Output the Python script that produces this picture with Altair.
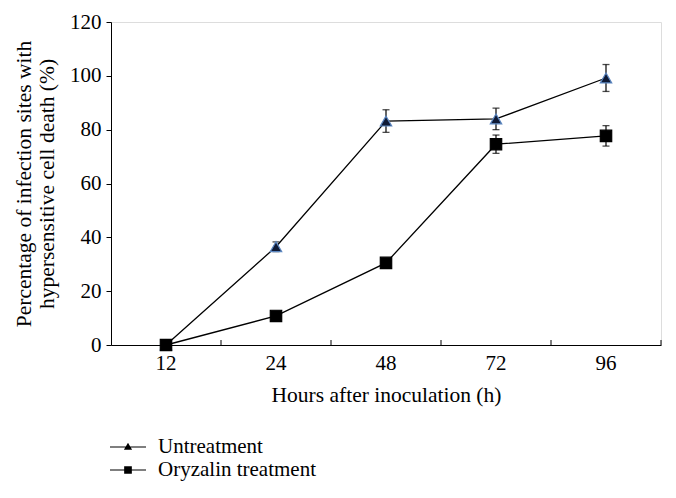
import altair as alt
import pandas as pd

hours = ["12", "24", "48", "72", "96"]
untreated = [0, 36.5, 83.2, 84.0, 99.2]
untreated_err = [0, 1.8, 4.2, 4.0, 5.0]
oryzalin = [0, 10.8, 30.5, 74.6, 77.7]
oryzalin_err = [0, 0, 0, 3.4, 3.8]
series_names = ["Untreatment", "Oryzalin treatment"]

rows = []
for h, v, e in zip(hours, untreated, untreated_err):
    rows.append({"hour": h, "value": v, "lo": v - e, "hi": v + e, "series": series_names[0]})
for h, v, e in zip(hours, oryzalin, oryzalin_err):
    rows.append({"hour": h, "value": v, "lo": v - e, "hi": v + e, "series": series_names[1]})
df = pd.DataFrame(rows)
err_df = df[df["hi"] > df["lo"]]
tick_df = pd.DataFrame({"hour": hours})

W, H = 550, 323
FONT = "Liberation Serif"
FS = 21

xenc = alt.X("hour:N", sort=hours,
             scale=alt.Scale(paddingInner=0, paddingOuter=0),
             axis=alt.Axis(title="Hours after inoculation (h)", labelAngle=0, ticks=False,
                           domainColor="black", labelColor="black", labelFont=FONT,
                           labelFontSize=FS, labelPadding=7, titleFont=FONT,
                           titleFontSize=FS + 0.5, titleFontWeight="normal", titleColor="black",
                           titlePadding=11))
yscale = alt.Scale(domain=[0, 120], nice=False)
yaxis = alt.Axis(title=["Percentage of infection sites with", "hypersensitive cell death (%)"],
                 values=[0, 20, 40, 60, 80, 100, 120], grid=False, tickSize=5,
                 tickColor="black", domainColor="black", labelColor="black",
                 labelFont=FONT, labelFontSize=FS, labelPadding=5, titleFont=FONT,
                 titleFontSize=FS + 0.5, titleFontWeight="normal", titleColor="black",
                 titlePadding=11, titleLineHeight=23)

base = alt.Chart(df)

lines = base.mark_line(color="black", strokeWidth=1.3).encode(
    x=xenc, y=alt.Y("value:Q", scale=yscale, axis=yaxis), detail="series:N")

err_rule = alt.Chart(err_df).mark_rule(color="black", strokeWidth=1.2).encode(
    x=alt.X("hour:N", sort=hours), y="lo:Q", y2="hi:Q")
err_lo = alt.Chart(err_df).mark_tick(color="black", thickness=1.3, size=7, orient="horizontal").encode(
    x=alt.X("hour:N", sort=hours), y="lo:Q")
err_hi = alt.Chart(err_df).mark_tick(color="black", thickness=1.3, size=7, orient="horizontal").encode(
    x=alt.X("hour:N", sort=hours), y="hi:Q")

points = base.mark_point(filled=True, opacity=1, size=130).encode(
    x=alt.X("hour:N", sort=hours),
    y="value:Q",
    shape=alt.Shape("series:N", sort=series_names,
                    scale=alt.Scale(domain=series_names, range=["triangle-up", "square"]),
                    legend=None),
    fill=alt.Fill("series:N", scale=alt.Scale(domain=series_names, range=["#0f1a35", "black"]),
                  legend=None),
    stroke=alt.Stroke("series:N", scale=alt.Scale(domain=series_names, range=["#5b86c0", "black"]),
                      legend=None),
    strokeWidth=alt.value(1.2),
)

tri_path = "M-1.5,-0.05H1.5V0.05H-1.5Z M0,-0.36L0.34,0.22L-0.34,0.22Z"
sq_path = "M-1.5,-0.05H1.5V0.05H-1.5Z M-0.32,-0.32H0.32V0.32H-0.32Z"

legend_layer = base.mark_point(filled=True, opacity=0, size=576, color="black").encode(
    x=alt.X("hour:N", sort=hours),
    y="value:Q",
    shape=alt.Shape("series:N", sort=series_names,
                    scale=alt.Scale(domain=series_names, range=[tri_path, sq_path]),
                    legend=alt.Legend(title=None, orient="none", legendX=5, legendY=413,
                                      symbolOpacity=1, symbolFillColor="black",
                                      symbolStrokeWidth=0, labelFont=FONT, labelFontSize=FS,
                                      labelColor="black", labelOffset=18, rowPadding=1,
                                      padding=0, symbolSize=576, labelLimit=400)),
)

inward_ticks = alt.Chart(tick_df).mark_rule(color="black", strokeWidth=1).encode(
    x=alt.X("hour:N", sort=hours, bandPosition=1),
    y=alt.value(H), y2=alt.value(H - 5))

chart = alt.layer(lines, err_rule, err_lo, err_hi, points, legend_layer, inward_ticks).resolve_scale(
    shape="independent").properties(
    width=W, height=H,
    autosize=alt.AutoSizeParams(type="none"),
    padding={"left": 103, "top": 14, "right": 7, "bottom": 145},
).configure_view(stroke=None).configure(background="white")

chart.save("out.html", embed_options={"renderer": "svg", "actions": False})
